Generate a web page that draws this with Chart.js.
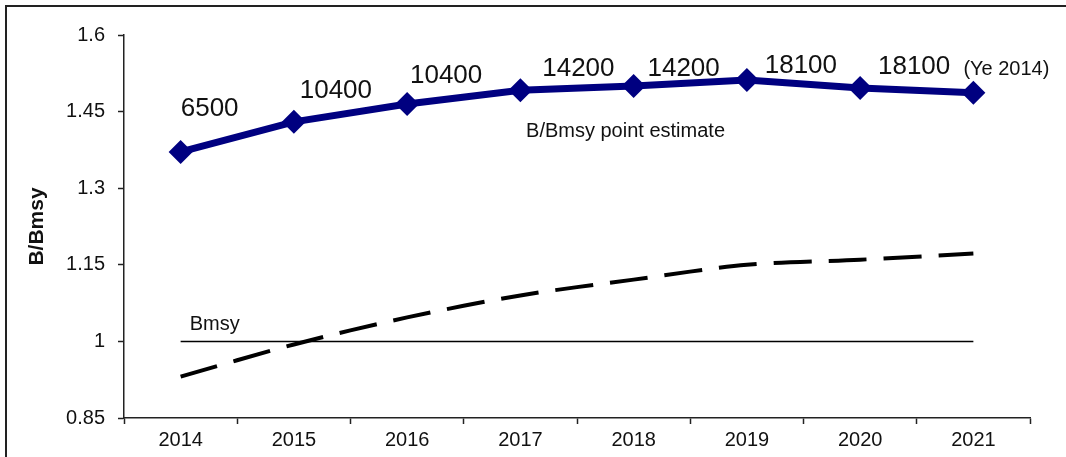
<!DOCTYPE html>
<html>
<head>
<meta charset="utf-8">
<script src="https://cdn.jsdelivr.net/npm/chart.js@4/dist/chart.umd.min.js"></script>
<style>
  html, body { margin: 0; padding: 0; background: #fff; }
  #wrap { width: 1066px; height: 457px; }
</style>
</head>
<body>
<div id="wrap"><canvas id="ratio"></canvas></div>
<script>
// data
const years = ["2014", "2015", "2016", "2017", "2018", "2019", "2020", "2021"];
const pointEstimate = [1.371, 1.430, 1.465, 1.492, 1.500, 1.512, 1.496, 1.487];
const lowerBound = [0.931, 0.994, 1.047, 1.090, 1.121, 1.150, 1.160, 1.172];
const bmsy = [1, 1, 1, 1, 1, 1, 1, 1];
const catchLabels = ["6500", "10400", "10400", "14200", "14200", "18100", "18100"];
const yTicks = [0.85, 1, 1.15, 1.3, 1.45, 1.6];

// where each catch label sits, relative to its point (px)
const labelNudge = [[29, -43], [42, -31], [39, -28], [58, -21], [50, -17], [54, -14], [54, -21]];

const FONT = "'Liberation Sans', Arial, sans-serif";

const frame = {
  id: "frame",
  beforeDraw(chart) {
    const c = chart.ctx;
    c.save();
    c.strokeStyle = "#222";
    c.lineWidth = 2;
    c.beginPath();
    c.moveTo(6, chart.height);
    c.lineTo(6, 6);
    c.lineTo(chart.width, 6);
    c.stroke();
    c.restore();
  }
};

const notes = {
  id: "notes",
  afterDatasetsDraw(chart) {
    const c = chart.ctx;
    const x = chart.scales.x, y = chart.scales.y;
    c.save();
    c.fillStyle = "#111";
    c.textBaseline = "middle";
    c.font = "26px " + FONT;
    c.textAlign = "center";
    catchLabels.forEach((t, i) => {
      const px = x.getPixelForValue(i), py = y.getPixelForValue(pointEstimate[i]);
      c.fillText(t, px + labelNudge[i][0], py + labelNudge[i][1]);
    });
    // last point source note
    const lx = x.getPixelForValue(7), ly = y.getPixelForValue(pointEstimate[7]);
    c.textAlign = "left";
    c.font = "20px " + FONT;
    c.fillText("(Ye 2014)", lx - 10, ly - 23);
    c.fillText("B/Bmsy point estimate", x.getPixelForValue(3.05), y.getPixelForValue(1.412));
    c.fillText("Bmsy", x.getPixelForValue(0) + 9, y.getPixelForValue(1) - 17);
    c.restore();
  }
};

new Chart(document.getElementById("ratio"), {
  type: "line",
  data: {
    labels: years,
    datasets: [
      {
        label: "Bmsy",
        data: bmsy,
        borderColor: "#000",
        borderWidth: 1.5,
        pointRadius: 0,
        tension: 0
      },
      {
        label: "lower",
        data: lowerBound,
        borderColor: "#000",
        borderWidth: 4,
        borderDash: [38, 17],
        pointRadius: 0,
        tension: 0.3
      },
      {
        label: "B/Bmsy point estimate",
        data: pointEstimate,
        borderColor: "#000080",
        backgroundColor: "#000080",
        borderWidth: 7,
        pointStyle: "rectRot",
        pointRadius: 12,
        pointBorderWidth: 0,
        tension: 0
      }
    ]
  },
  options: {
    responsive: true,
    maintainAspectRatio: false,
    animation: false,
    layout: { padding: { left: 16, top: 35, right: 36, bottom: 0 } },
    plugins: { legend: { display: false }, tooltip: { enabled: false } },
    scales: {
      x: {
        offset: true,
        grid: { offset: true, drawOnChartArea: false, color: "#222", tickLength: 6, tickWidth: 1.5 },
        border: { color: "#222", width: 1.5 },
        ticks: { color: "#111", font: { family: FONT, size: 20 }, padding: 4, maxRotation: 0 },
        afterFit(s) { s.height = 39; }
      },
      y: {
        min: 0.85,
        max: 1.6,
        afterBuildTicks(s) { s.ticks = yTicks.map(v => ({ value: v })); },
        grid: { drawOnChartArea: false, color: "#222", tickLength: 6, tickWidth: 1.5 },
        border: { color: "#222", width: 1.5 },
        ticks: { color: "#111", font: { family: FONT, size: 20 }, padding: 13, callback: v => String(v) },
        title: { display: true, text: "B/Bmsy", color: "#111", font: { family: FONT, size: 21, weight: "bold" }, padding: { top: 9, bottom: 0 } },
        afterFit(s) { s.width = 108; }
      }
    }
  },
  plugins: [frame, notes]
});
</script>
</body>
</html>
